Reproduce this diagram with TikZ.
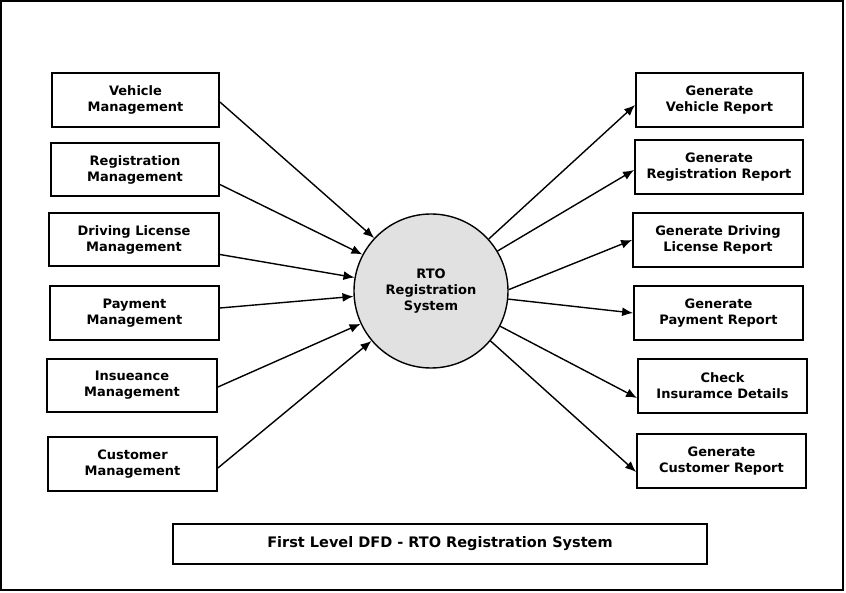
\documentclass[tikz,border=0pt]{standalone}
\usepackage{fontspec}
\setmainfont{DejaVu Sans}
\usepackage{tikz}
\usepackage{xcolor}
\definecolor{procGray}{HTML}{E1E1E1}
\usetikzlibrary{arrows.meta}
\tikzstyle{myBlock}=[draw, line width=1.8pt, minimum width=168pt, minimum height=54pt, align=center, inner sep=2pt, font=\fontsize{13}{16}\selectfont\bfseries]
\tikzstyle{myProc}=[draw, circle, line width=1.4pt, fill=procGray, minimum size=154pt, align=center, font=\fontsize{13}{16}\selectfont\bfseries]
\tikzstyle{myPath} = [-{Latex[length=11pt,width=9pt]}, line width=1.4pt]

\begin{document}
\begin{tikzpicture}[x=1pt,y=-1pt]
   \useasboundingbox (0,0) rectangle (846,593);
   \draw[line width=1.8pt] (1,1) rectangle (843,590);

   \node[myProc] (rto) at (431,291) {RTO\\Registration\\System};

   % input processes on the left
   \node[myBlock, minimum width=167pt] (vm) at (135.5,100) {Vehicle\\Management};
   \node[myBlock, minimum width=168pt, minimum height=53pt] (rm) at (135,169.5) {Registration\\Management};
   \node[myBlock, minimum width=170pt, minimum height=53pt] (dlm) at (134,239.5) {Driving License\\Management};
   \node[myBlock, minimum width=169pt] (pm) at (134.5,313) {Payment\\Management};
   \node[myBlock, minimum width=170pt, minimum height=53pt] (im) at (132,385.5) {Insueance\\Management};
   \node[myBlock, minimum width=169pt] (cm) at (132.5,464) {Customer\\Management};

   % reports on the right
   \node[myBlock, minimum width=167pt] (vr) at (719.5,100) {Generate\\Vehicle Report};
   \node[myBlock, minimum width=168pt] (rr) at (719,167) {Generate\\Registration Report};
   \node[myBlock, minimum width=170pt] (dlr) at (718,240) {Generate Driving\\License Report};
   \node[myBlock, minimum width=169pt] (pr) at (718.5,313) {Generate\\Payment Report};
   \node[myBlock, minimum width=169pt] (ci) at (722.5,386) {Check\\Insuramce Details};
   \node[myBlock, minimum width=169pt] (cr) at (721.5,461) {Generate\\Customer Report};

   \node[myBlock, minimum width=534pt, minimum height=40pt, font=\fontsize{14.5}{17}\selectfont\bfseries] (title) at (440,544) {First Level DFD - RTO Registration System};

   % Draw line between each of the blocks
   \draw[myPath] ([yshift=-2pt]vm.east) -- (rto.137.6);
   \draw[myPath] ([yshift=-15pt]rm.east) -- (rto.152.8);
   \draw[myPath] ([yshift=-15pt]dlm.east) -- (rto.170.6);
   \draw[myPath] ([yshift=5pt]pm.east) -- (rto.184.3);
   \draw[myPath] ([yshift=-1.5pt]im.east) -- (rto.205);
   \draw[myPath] ([yshift=-4pt]cm.east) -- (rto.220.4);

   \draw[myPath] (rto.42.9) -- ([yshift=-5pt]vr.west);
   \draw[myPath] (rto.31.1) -- ([yshift=-3pt]rr.west);
   \draw[myPath] (rto.1) -- (dlr.west);
   \draw[myPath] (rto.-6.5) -- (pr.west);
   \draw[myPath] (rto.-27.5) -- ([yshift=-12pt]ci.west);
   \draw[myPath] (rto.-40.4) -- ([yshift=-11pt]cr.west);

\end{tikzpicture}
\end{document}
